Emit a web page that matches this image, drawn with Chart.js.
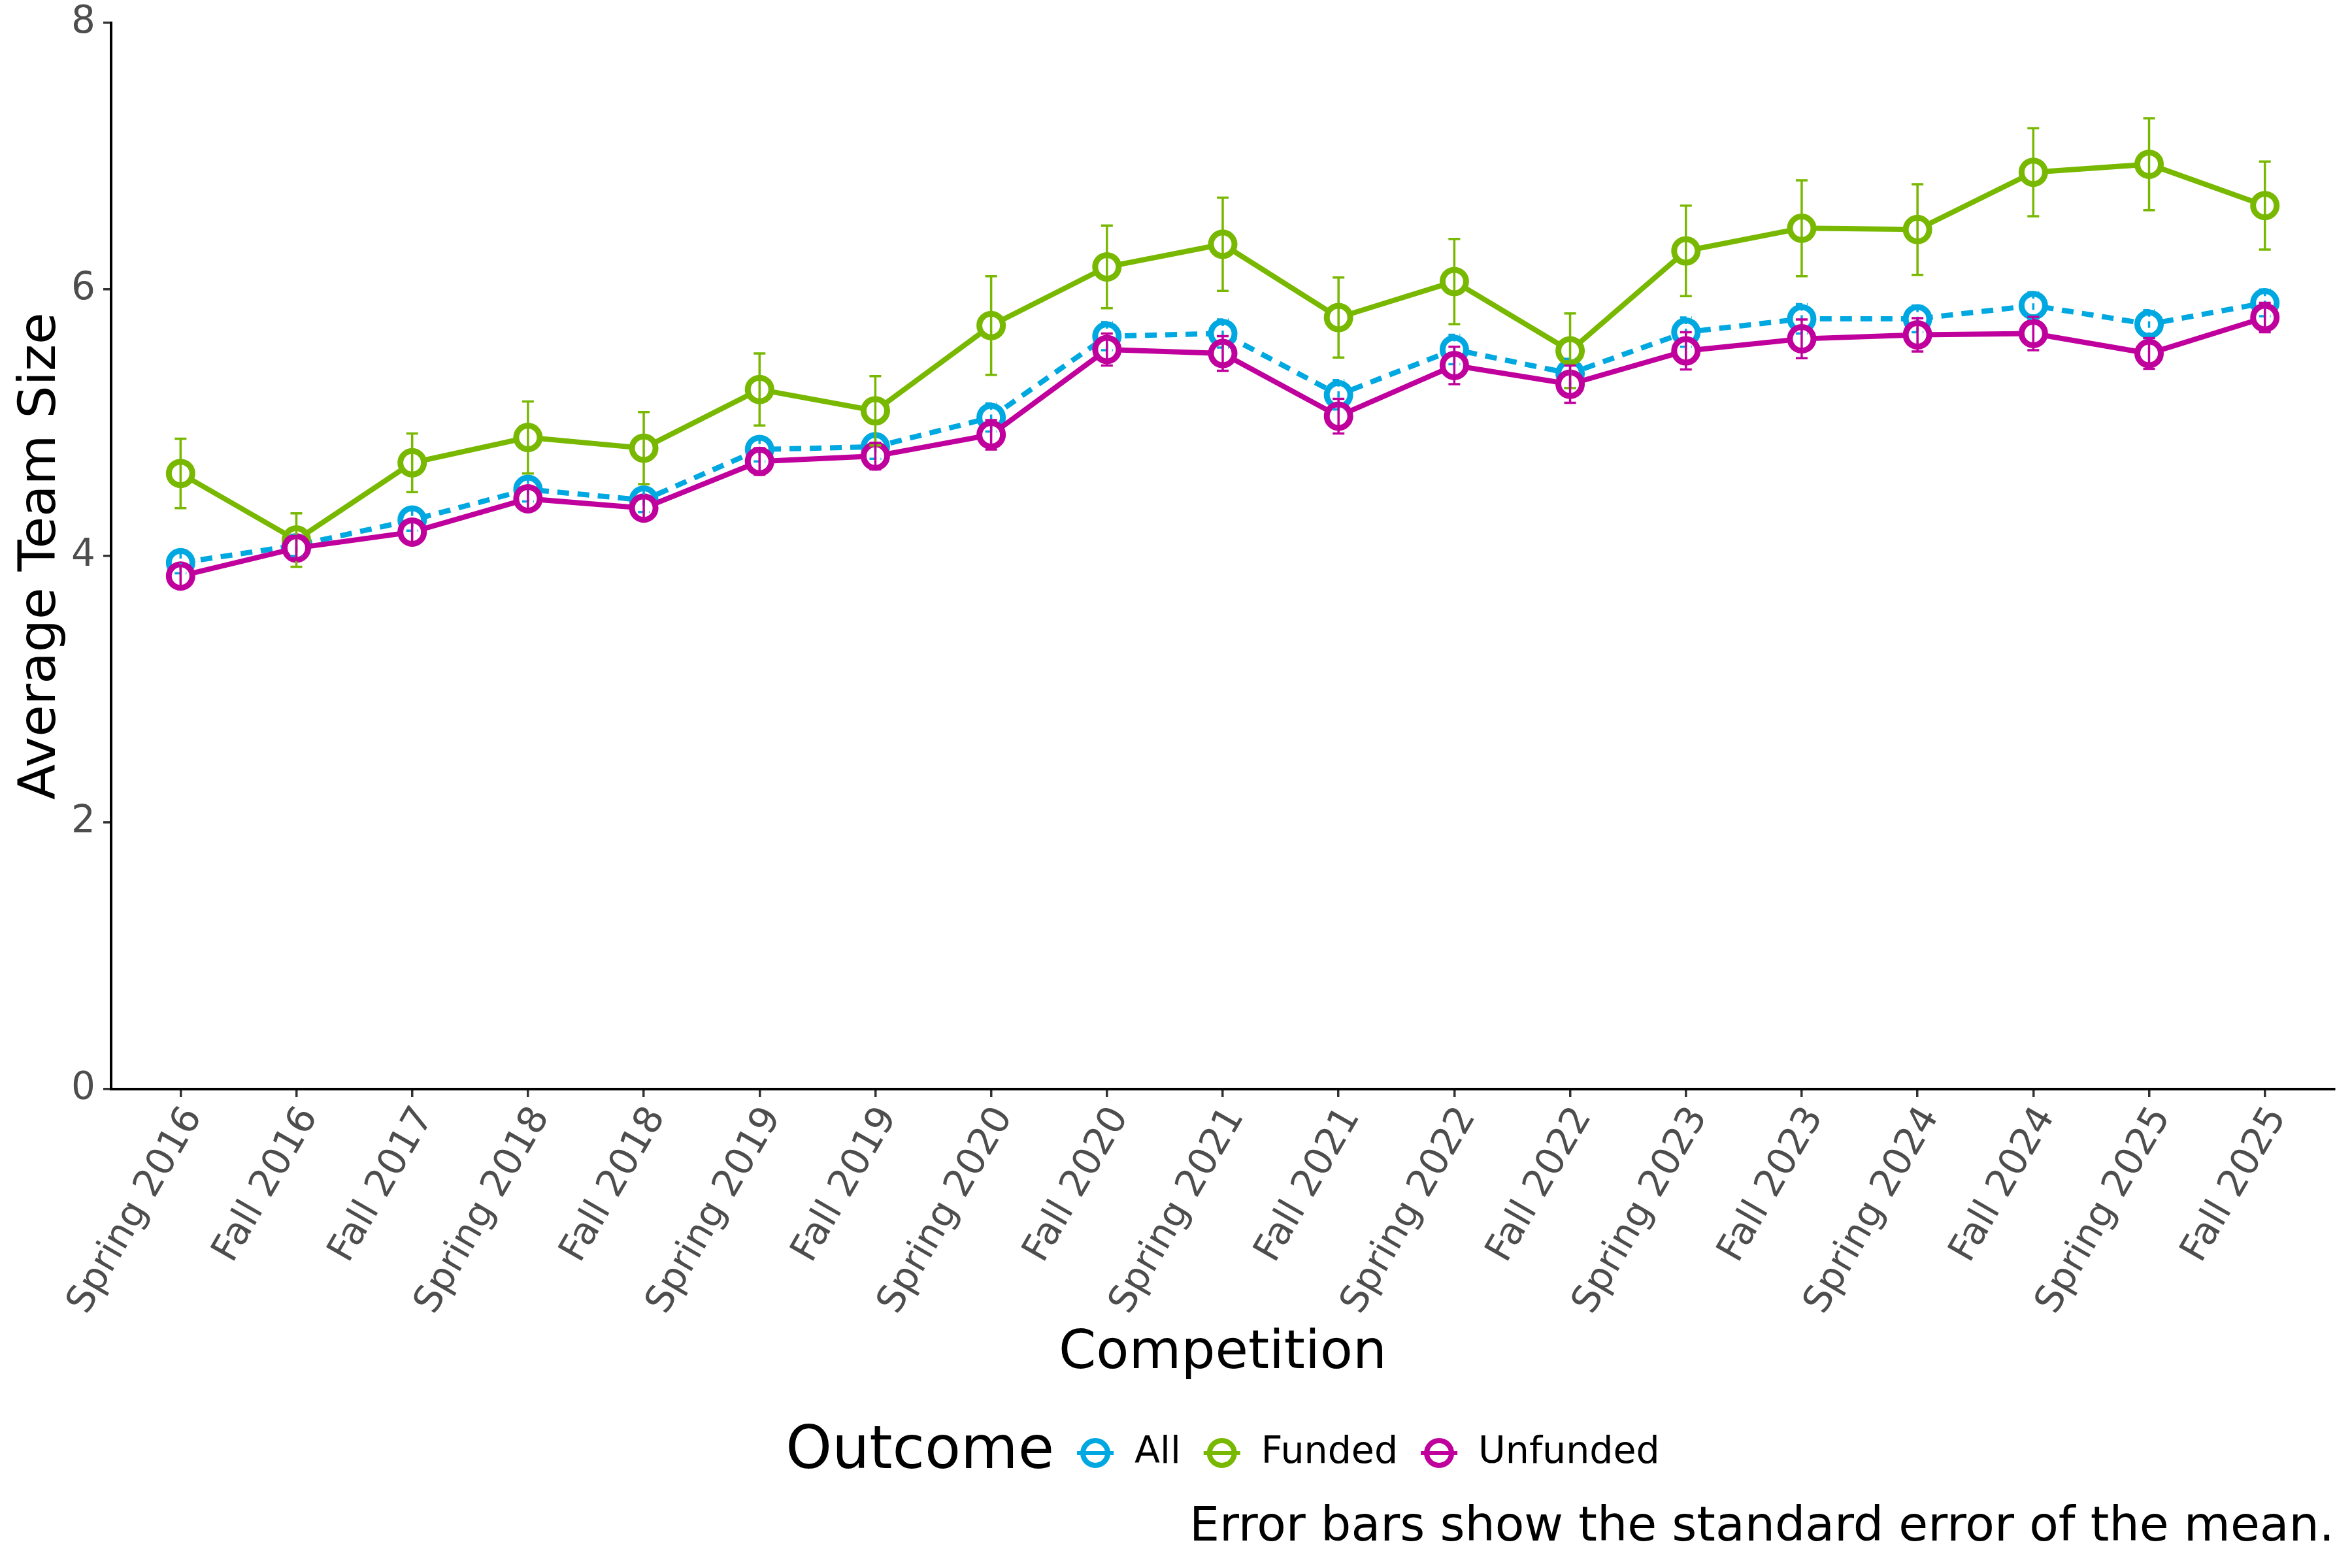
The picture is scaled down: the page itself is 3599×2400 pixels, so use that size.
<!DOCTYPE html>
<html>
<head>
<meta charset="utf-8">
<script src="https://cdn.jsdelivr.net/npm/chart.js@4.4.1/dist/chart.umd.min.js"></script>
<style>
  html, body { margin: 0; padding: 0; background: #fff; }
  canvas { display: block; }
</style>
</head>
<body>
<canvas id="chart" width="3599" height="2400"></canvas>
<script>
const competitions = [
  'Spring 2016', 'Fall 2016', 'Fall 2017', 'Spring 2018', 'Fall 2018',
  'Spring 2019', 'Fall 2019', 'Spring 2020', 'Fall 2020', 'Spring 2021',
  'Fall 2021', 'Spring 2022', 'Fall 2022', 'Spring 2023', 'Fall 2023',
  'Spring 2024', 'Fall 2024', 'Spring 2025', 'Fall 2025'
];

const allMean = [3.95, 4.08, 4.27, 4.50, 4.42, 4.80, 4.82, 5.04, 5.65, 5.67, 5.21, 5.55, 5.37, 5.68, 5.78, 5.78, 5.88, 5.74, 5.90];
const allSe = [0.08, 0.08, 0.08, 0.09, 0.09, 0.09, 0.09, 0.105, 0.105, 0.105, 0.11, 0.11, 0.11, 0.11, 0.11, 0.10, 0.10, 0.105, 0.10];

const fundedMean = [4.62, 4.12, 4.70, 4.89, 4.81, 5.25, 5.09, 5.73, 6.17, 6.34, 5.79, 6.06, 5.54, 6.29, 6.46, 6.45, 6.88, 6.94, 6.63];
const fundedSe = [0.26, 0.20, 0.22, 0.27, 0.27, 0.27, 0.26, 0.37, 0.31, 0.35, 0.30, 0.32, 0.28, 0.34, 0.36, 0.34, 0.33, 0.345, 0.33];

const unfundedMean = [3.85, 4.06, 4.18, 4.43, 4.36, 4.71, 4.75, 4.91, 5.55, 5.52, 5.05, 5.43, 5.29, 5.54, 5.63, 5.66, 5.67, 5.52, 5.79];
const unfundedSe = [0.08, 0.09, 0.08, 0.09, 0.09, 0.10, 0.10, 0.11, 0.12, 0.13, 0.13, 0.14, 0.14, 0.14, 0.145, 0.125, 0.125, 0.115, 0.11];

const yTicks = [0, 2, 4, 6, 8];

const COLORS = { all: '#00A8E1', funded: '#78B800', unfunded: '#C0009C' };
const FONT = 'DejaVu Sans';

Chart.defaults.font.family = FONT;

function points(values) {
  return values.map((v, i) => ({ x: i, y: v }));
}

function series(label, values, se, color, order, dash) {
  return {
    label: label,
    data: points(values),
    se: se,
    order: order,
    borderColor: color,
    borderWidth: 8,
    borderDash: dash,
    borderCapStyle: 'butt',
    tension: 0,
    pointRadius: 18,
    pointHoverRadius: 18,
    pointBorderWidth: 9,
    pointBorderColor: color,
    pointBackgroundColor: '#ffffff',
    fill: false
  };
}

// standard error bars, drawn over the points
const errorBars = {
  id: 'errorBars',
  afterDatasetsDraw(chart) {
    const ctx = chart.ctx;
    const x = chart.scales.x;
    const y = chart.scales.y;
    ctx.save();
    chart.data.datasets.forEach((ds) => {
      ctx.strokeStyle = ds.borderColor;
      ctx.lineWidth = 3.5;
      ctx.setLineDash(ds.borderDash && ds.borderDash.length ? [10, 7] : []);
      ds.data.forEach((p, i) => {
        const px = x.getPixelForValue(p.x);
        const top = y.getPixelForValue(p.y + ds.se[i]);
        const bot = y.getPixelForValue(p.y - ds.se[i]);
        ctx.beginPath();
        ctx.moveTo(px, top);
        ctx.lineTo(px, bot);
        ctx.moveTo(px - 9, top);
        ctx.lineTo(px + 9, top);
        ctx.moveTo(px - 9, bot);
        ctx.lineTo(px + 9, bot);
        ctx.stroke();
      });
    });
    ctx.restore();
  }
};

// x title, inline legend and caption below the plot
const annotations = {
  id: 'annotations',
  afterDraw(chart) {
    const ctx = chart.ctx;
    const area = chart.chartArea;
    const cx = (area.left + area.right) / 2;
    ctx.save();
    ctx.fillStyle = '#000';
    ctx.textBaseline = 'middle';

    ctx.font = '82px "' + FONT + '"';
    ctx.textAlign = 'center';
    ctx.fillText('Competition', cx, 2073);

    // legend
    const ly = 2224;
    ctx.font = '90px "' + FONT + '"';
    const wTitle = ctx.measureText('Outcome').width;
    ctx.font = '57px "' + FONT + '"';
    const items = chart.data.datasets.map((ds) => ({ label: ds.label, color: ds.borderColor }));
    let total = wTitle + 63;
    items.forEach((it, i) => {
      it.w = ctx.measureText(it.label).width;
      total += 60 + it.w + (i < items.length - 1 ? 63 : 0);
    });
    let lx = cx - total / 2;
    ctx.textAlign = 'left';
    ctx.font = '90px "' + FONT + '"';
    ctx.fillText('Outcome', lx, ly);
    lx += wTitle + 63;
    ctx.font = '57px "' + FONT + '"';
    items.forEach((it) => {
      ctx.strokeStyle = it.color;
      ctx.lineWidth = 8;
      ctx.beginPath();
      ctx.arc(lx, ly, 19, 0, Math.PI * 2);
      ctx.stroke();
      ctx.lineWidth = 6;
      ctx.beginPath();
      ctx.moveTo(lx - 28, ly);
      ctx.lineTo(lx + 28, ly);
      ctx.stroke();
      ctx.fillStyle = '#000';
      ctx.fillText(it.label, lx + 60, ly);
      lx += 60 + it.w + 63;
    });

    ctx.font = '73px "' + FONT + '"';
    ctx.textAlign = 'right';
    ctx.fillText('Error bars show the standard error of the mean.', area.right, 2339);
    ctx.restore();
  }
};

const axisGrid = {
  drawOnChartArea: false,
  drawTicks: true,
  tickLength: 12,
  color: '#333333',
  lineWidth: 3.5
};

const axisBorder = { display: true, color: '#000000', width: 4 };

new Chart(document.getElementById('chart'), {
  type: 'line',
  data: {
    datasets: [
      series('All', allMean, allSe, COLORS.all, 3, [18, 13]),
      series('Funded', fundedMean, fundedSe, COLORS.funded, 2, []),
      series('Unfunded', unfundedMean, unfundedSe, COLORS.unfunded, 1, [])
    ]
  },
  options: {
    responsive: false,
    animation: false,
    devicePixelRatio: 1,
    layout: { padding: { top: 25, right: 22, bottom: 0, left: 0 } },
    plugins: {
      legend: { display: false },
      tooltip: { enabled: false }
    },
    scales: {
      x: {
        type: 'linear',
        min: -0.6,
        max: competitions.length - 0.4,
        afterBuildTicks: (scale) => {
          scale.ticks = competitions.map((c, i) => ({ value: i }));
        },
        afterFit: (scale) => { scale.height = 733; },
        ticks: {
          autoSkip: false,
          minRotation: 60,
          maxRotation: 60,
          padding: 4,
          labelOffset: 20,
          color: '#4D4D4D',
          font: { size: 58 },
          callback: (v) => competitions[v]
        },
        grid: axisGrid,
        border: axisBorder
      },
      y: {
        min: yTicks[0],
        max: yTicks[yTicks.length - 1],
        afterBuildTicks: (scale) => {
          scale.ticks = yTicks.map((v) => ({ value: v }));
        },
        afterFit: (scale) => { scale.width = 170; },
        ticks: {
          padding: 12,
          color: '#4D4D4D',
          font: { size: 58, lineHeight: 0.8 }
        },
        grid: axisGrid,
        border: axisBorder,
        title: {
          display: true,
          text: 'Average Team Size',
          color: '#000000',
          font: { size: 79 },
          padding: { top: 16 }
        }
      }
    }
  },
  plugins: [errorBars, annotations]
});
</script>
</body>
</html>
